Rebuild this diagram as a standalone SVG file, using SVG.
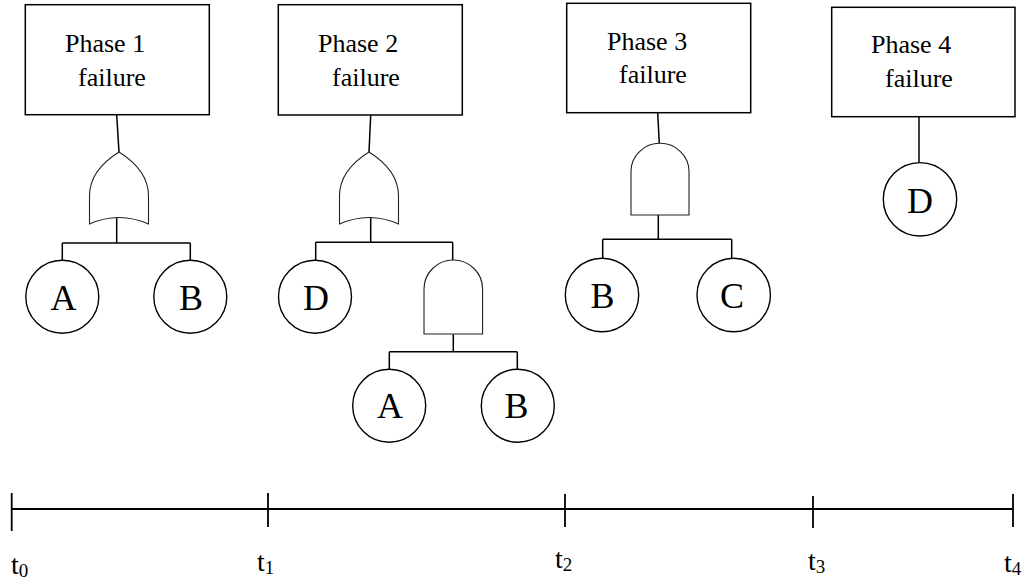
<svg xmlns="http://www.w3.org/2000/svg" width="1024" height="584" viewBox="0 0 1024 584">
  <style>
    .box { fill: #fff; stroke: #000; stroke-width: 1.5; }
    .gate { fill: #fff; stroke: #222; stroke-width: 1.1; }
    .ev { fill: #fff; stroke: #000; stroke-width: 1.4; }
    .wire { fill: none; stroke: #000; stroke-width: 1.5; }
    .axis { fill: none; stroke: #000; stroke-width: 1.8; }
    .lbl { font-family: "Liberation Serif", "Times New Roman", serif; font-size: 26px; fill: #000; }
    .evt { font-family: "Liberation Serif", "Times New Roman", serif; font-size: 36px; fill: #000; text-anchor: middle; }
    .tl { font-family: "Liberation Serif", "Times New Roman", serif; font-size: 28px; fill: #000; }
    .sub { font-size: 19px; }
  </style>
  <defs>
    <!-- OR gate outline, origin at the apex, 59 wide -->
    <path id="orGate" d="M0,0 C-16,10 -29.5,25 -29.5,44 L-29.5,72 Q0,59 29.5,72 L29.5,44 C29.5,25 16,10 0,0 Z"/>
    <!-- AND gate outline, origin at top centre, 58 wide, 74 tall -->
    <path id="andGate" d="M-29,74 L-29,29 A29,29 0 0 1 29,29 L29,74 Z"/>
  </defs>

  <!-- connectors -->
  <g id="connectors" class="wire">
    <!-- phase 1 tree -->
    <path d="M116.7,115 L119,152"/>
    <path d="M116.7,218 L116.7,243 M62.3,243 L190.3,243 M62.3,243 L62.3,260 M190.3,243 L190.3,260"/>
    <!-- phase 2 tree -->
    <path d="M370.7,115 L369,152"/>
    <path d="M370.7,216 L370.7,242.3 M315.7,242.3 L452.7,242.3 M315.7,242.3 L315.7,260 M452.7,242.3 L452.7,260"/>
    <path d="M453.3,334.3 L453.3,351.7 M389.3,351.7 L517.3,351.7 M389.3,351.7 L389.3,369.3 M517.3,351.7 L517.3,369.3"/>
    <!-- phase 3 tree -->
    <path d="M657.7,113 L659.3,143.3"/>
    <path d="M658.3,215 L658.3,239.3 M602.7,239.3 L731.7,239.3 M602.7,239.3 L602.7,258.3 M731.7,239.3 L731.7,258.3"/>
    <!-- phase 4 tree -->
    <path d="M919,117 L919,163"/>
  </g>

  <!-- top events -->
  <g id="phase1">
    <rect class="box" x="25.3" y="4.7" width="184" height="110"/>
    <text class="lbl" x="65" y="52">Phase 1</text>
    <text class="lbl" x="78" y="86">failure</text>
  </g>
  <g id="phase2">
    <rect class="box" x="278.3" y="4.7" width="184" height="110.3"/>
    <text class="lbl" x="318" y="52">Phase 2</text>
    <text class="lbl" x="332" y="86">failure</text>
  </g>
  <g id="phase3">
    <rect class="box" x="566.7" y="3.3" width="184" height="109.4"/>
    <text class="lbl" x="607" y="50">Phase 3</text>
    <text class="lbl" x="619" y="83">failure</text>
  </g>
  <g id="phase4">
    <rect class="box" x="831.7" y="7.3" width="183.3" height="109.4"/>
    <text class="lbl" x="871" y="53">Phase 4</text>
    <text class="lbl" x="885" y="87">failure</text>
  </g>

  <!-- gates -->
  <g id="or1"><use href="#orGate" class="gate" transform="translate(119,152)"/></g>
  <g id="or2"><use href="#orGate" class="gate" transform="translate(369,152)"/></g>
  <g id="and2"><use href="#andGate" class="gate" transform="translate(453.3,260) scale(1.01,1)"/></g>
  <g id="and3"><use href="#andGate" class="gate" transform="translate(660,143.3) scale(1,0.97)"/></g>

  <!-- basic events -->
  <g id="p1-A">
    <circle class="ev" cx="62.3" cy="296.7" r="36.5"/>
    <text class="evt" x="63.5" y="310">A</text>
  </g>
  <g id="p1-B">
    <circle class="ev" cx="190.3" cy="296.7" r="36.5"/>
    <text class="evt" x="191" y="310">B</text>
  </g>
  <g id="p2-D">
    <circle class="ev" cx="315" cy="296.7" r="36.5"/>
    <text class="evt" x="316" y="310">D</text>
  </g>
  <g id="p2-A">
    <circle class="ev" cx="389.2" cy="405.8" r="36.5"/>
    <text class="evt" x="390" y="418">A</text>
  </g>
  <g id="p2-B">
    <circle class="ev" cx="517.8" cy="405.8" r="36.5"/>
    <text class="evt" x="516.5" y="418">B</text>
  </g>
  <g id="p3-B">
    <circle class="ev" cx="602" cy="295" r="36.7"/>
    <text class="evt" x="602.5" y="308">B</text>
  </g>
  <g id="p3-C">
    <circle class="ev" cx="733.7" cy="295" r="36.7"/>
    <text class="evt" x="732" y="308">C</text>
  </g>
  <g id="p4-D">
    <circle class="ev" cx="920" cy="199.3" r="36.7"/>
    <text class="evt" x="920" y="212.5">D</text>
  </g>

  <!-- time axis -->
  <g id="timeline">
    <path class="axis" d="M11.7,509 L1013,509 M11.7,493 L11.7,531 M268,493 L268,527 M565,494 L565,527 M813,496 L813,528 M1013,494 L1013,527"/>
    <text class="tl" x="11" y="574">t<tspan class="sub" dy="3">0</tspan></text>
    <text class="tl" x="257" y="571">t<tspan class="sub" dy="3">1</tspan></text>
    <text class="tl" x="555" y="568">t<tspan class="sub" dy="3">2</tspan></text>
    <text class="tl" x="808" y="570">t<tspan class="sub" dy="3">3</tspan></text>
    <text class="tl" x="1004" y="572">t<tspan class="sub" dy="3">4</tspan></text>
  </g>
</svg>
